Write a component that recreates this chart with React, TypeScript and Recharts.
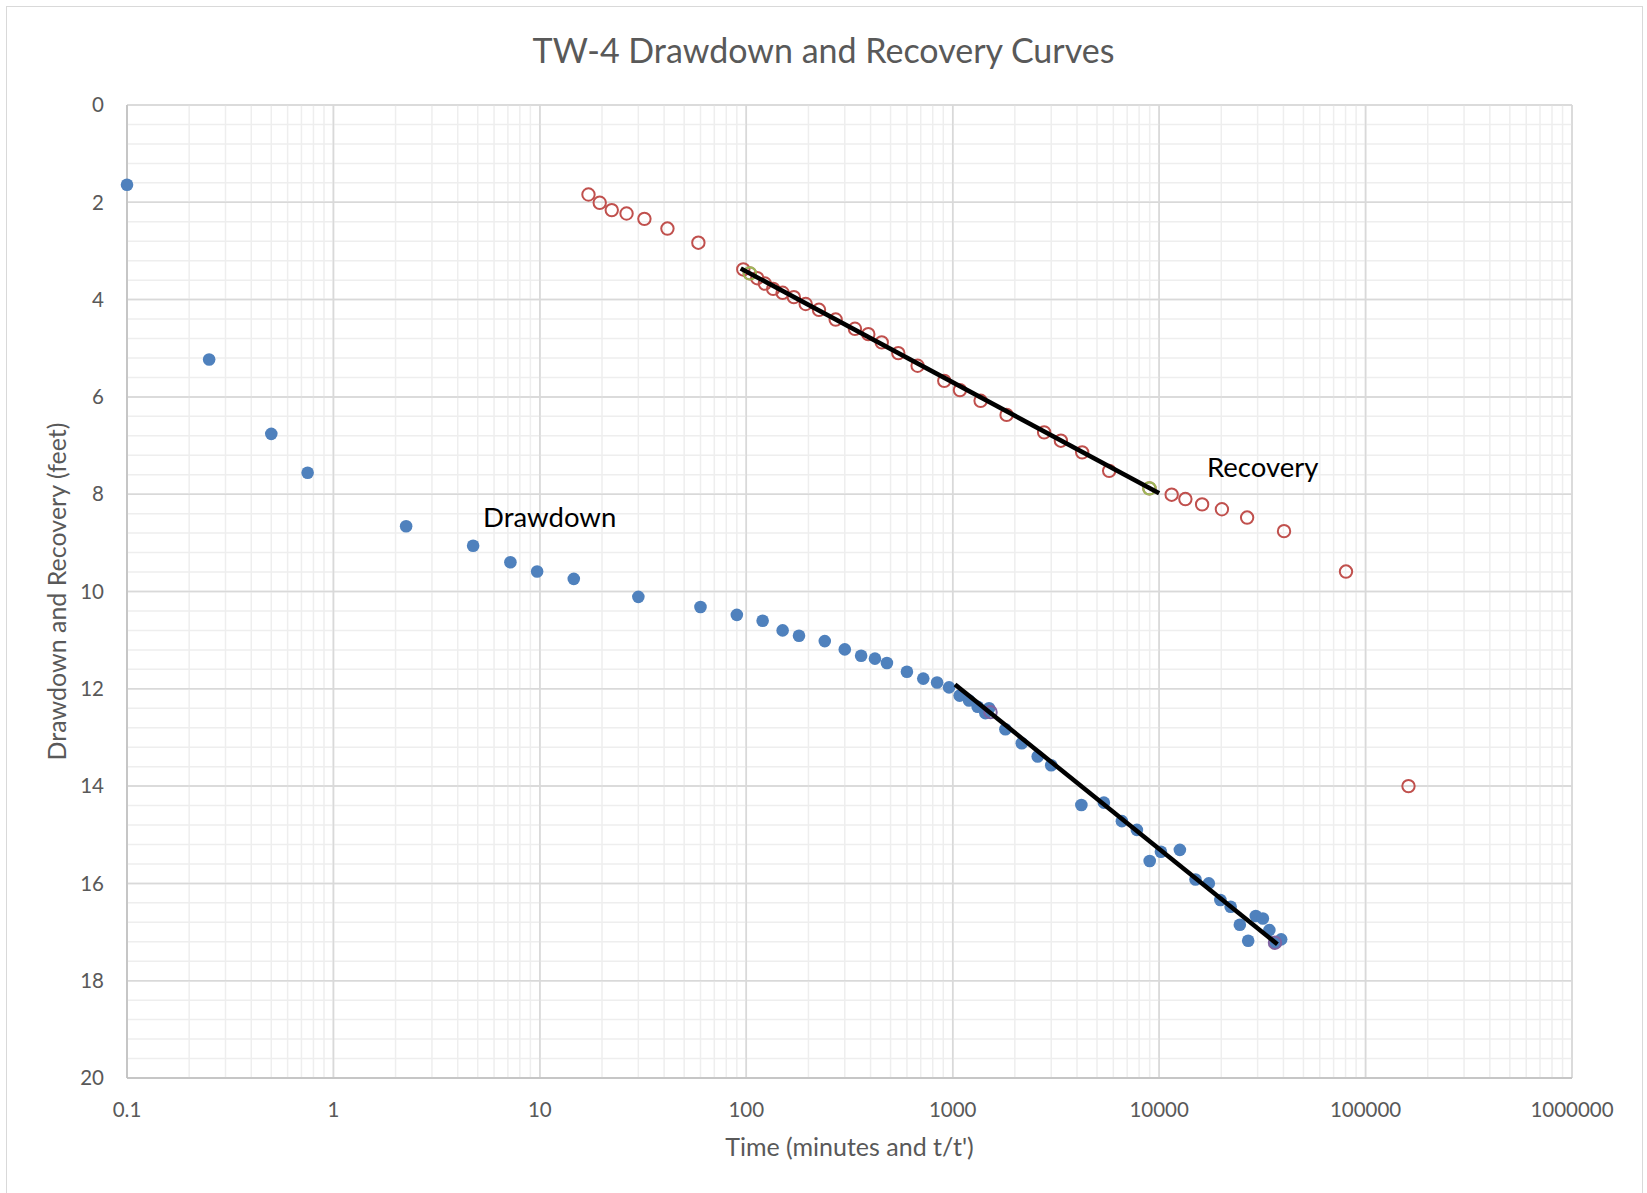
import {
  CartesianGrid,
  ReferenceDot,
  ReferenceLine,
  Scatter,
  ScatterChart,
  XAxis,
  YAxis,
} from 'recharts';

// Pumping test TW-4: drawdown vs elapsed minutes, recovery vs t/t'
const drawdownMinutes = [
  0.1, 0.25, 0.5, 0.75, 2.25, 4.75, 7.2, 9.7, 14.6, 30, 60, 90, 120, 150, 180, 240, 300, 360,
  420, 480, 600, 720, 840, 960, 1080, 1200, 1320, 1440, 1500, 1800, 2160, 2580, 3000, 4200,
  5400, 6600, 7800, 9000, 10200, 12600, 15000, 17400, 19800, 22200, 24600, 27000, 29400,
  31800, 34200, 36600, 39000,
];
const drawdownFeet = [
  1.64, 5.23, 6.76, 7.56, 8.66, 9.06, 9.4, 9.59, 9.74, 10.11, 10.32, 10.48, 10.6, 10.8, 10.91,
  11.02, 11.19, 11.32, 11.38, 11.47, 11.65, 11.79, 11.87, 11.97, 12.14, 12.24, 12.37, 12.5,
  12.4, 12.83, 13.12, 13.39, 13.57, 14.39, 14.34, 14.72, 14.9, 15.54, 15.35, 15.31, 15.92, 16.0,
  16.34, 16.48, 16.85, 17.18, 16.67, 16.72, 16.96, 17.22, 17.15,
];

const recoveryRatio = [
  17.2, 19.5, 22.3, 26.3, 32.1, 41.5, 58.6, 96.7, 104, 113, 123, 135, 150, 170, 194, 225, 271,
  336, 390, 453, 545, 676, 910, 1084, 1365, 1824, 2773, 3342, 4238, 5727, 8970, 11500, 13400,
  16150, 20140, 26680, 40270, 80380, 161400,
];
const recoveryFeet = [
  1.84, 2.01, 2.16, 2.23, 2.34, 2.54, 2.83, 3.38, 3.46, 3.56, 3.67, 3.78, 3.86, 3.95, 4.09, 4.21,
  4.41, 4.6, 4.71, 4.88, 5.1, 5.36, 5.67, 5.86, 6.08, 6.37, 6.73, 6.9, 7.14, 7.52, 7.88, 8.01,
  8.1, 8.21, 8.31, 8.48, 8.76, 9.59, 14.0,
];

// points picked for the straight-line (Cooper-Jacob) fits
const recoveryPickX = [104, 8970];
const recoveryPickY = [3.46, 7.88];
const drawdownPickX = [1525, 36400];
const drawdownPickY = [12.48, 17.22];

// fitted lines
const recoveryFitX = [94, 10000];
const recoveryFitY = [3.36, 7.98];
const drawdownFitX = [1026, 37400];
const drawdownFitY = [11.91, 17.25];

const xTicks = [0.1, 1, 10, 100, 1000, 10000, 100000, 1000000];
const yTicks = [0, 2, 4, 6, 8, 10, 12, 14, 16, 18, 20];

const toPoints = (xs: number[], ys: number[]) => xs.map((x, i) => ({ x, y: ys[i] }));

const drawdown = toPoints(drawdownMinutes, drawdownFeet);
const recovery = toPoints(recoveryRatio, recoveryFeet);
const recoveryPicks = toPoints(recoveryPickX, recoveryPickY);
const drawdownPicks = toPoints(drawdownPickX, drawdownPickY);
const recoveryFit = toPoints(recoveryFitX, recoveryFitY);
const drawdownFit = toPoints(drawdownFitX, drawdownFitY);

// minor log grid (2..9 in each decade) and 0.4 ft minor steps
const minorX: number[] = [];
for (let d = 0.1; d < 1000000; d *= 10) {
  for (let m = 2; m <= 9; m++) minorX.push(+(d * m).toPrecision(3));
}
const minorY: number[] = [];
for (let i = 1; i < 50; i++) if (i % 5 !== 0) minorY.push(+(i * 0.4).toFixed(1));

const W = 1647;
const H = 1193;
const PLOT = { left: 127, top: 105, right: 1572, bottom: 1078 };
const FONT = 'Lato, "Open Sans", sans-serif';
const GREY_TEXT = '#595959';

const filledDot = (color: string) => (p: any) => (
  <circle cx={p.cx} cy={p.cy} r={6.3} fill={color} />
);
const ring = (color: string) => (p: any) => (
  <circle cx={p.cx} cy={p.cy} r={6.2} fill="none" stroke={color} strokeWidth={2} />
);
const noShape = () => <g />;

const annotation = (text: string) => (props: any) => {
  const vb = props.viewBox || {};
  return (
    <text x={vb.x} y={vb.y} fill="#000" fontSize={27.5} fontFamily={FONT} textAnchor="start">
      {text}
    </text>
  );
};

const xTitle = () => (
  <text
    x={(PLOT.left + PLOT.right) / 2}
    y={1156}
    textAnchor="middle"
    fill={GREY_TEXT}
    fontSize={25}
    fontFamily={FONT}
  >
    Time (minutes and t/t')
  </text>
);

const yTitle = () => {
  const cy = (PLOT.top + PLOT.bottom) / 2;
  return (
    <text
      x={66}
      y={cy}
      transform={`rotate(-90 66 ${cy})`}
      textAnchor="middle"
      fill={GREY_TEXT}
      fontSize={25}
      fontFamily={FONT}
    >
      Drawdown and Recovery (feet)
    </text>
  );
};

export default function App() {
  return (
    <div
      style={{
        position: 'absolute',
        left: 0,
        top: 0,
        width: W,
        height: H,
        background: '#fff',
        overflow: 'hidden',
      }}
    >
      <div
        style={{
          position: 'absolute',
          left: 6,
          top: 6,
          width: 1637,
          height: 1200,
          border: '1.5px solid #D9D9D9',
          boxSizing: 'border-box',
        }}
      />
      <div
        style={{
          position: 'absolute',
          left: 0,
          top: 33,
          width: W,
          textAlign: 'center',
          fontFamily: FONT,
          fontSize: 34,
          lineHeight: '34px',
          color: GREY_TEXT,
        }}
      >
        TW-4 Drawdown and Recovery Curves
      </div>
      <div style={{ position: 'absolute', left: 0, top: 0 }}>
        <ScatterChart
          width={W}
          height={H}
          margin={{ top: PLOT.top, right: W - PLOT.right, bottom: H - PLOT.bottom - 100, left: PLOT.left - 100 }}
        >
          <CartesianGrid stroke="#D9D9D9" strokeWidth={1.5} />
          {minorX.map((v) => (
            <ReferenceLine key={`mx${v}`} x={v} stroke="#EEEEEE" strokeWidth={1.5} />
          ))}
          {minorY.map((v) => (
            <ReferenceLine key={`my${v}`} y={v} stroke="#EEEEEE" strokeWidth={1.5} />
          ))}
          {xTicks.map((v) => (
            <ReferenceLine key={`Mx${v}`} x={v} stroke="#D9D9D9" strokeWidth={1.5} />
          ))}
          {yTicks.map((v) => (
            <ReferenceLine key={`My${v}`} y={v} stroke="#D9D9D9" strokeWidth={1.5} />
          ))}
          <XAxis
            dataKey="x"
            type="number"
            scale="log"
            domain={[0.1, 1000000]}
            ticks={xTicks}
            tickFormatter={(v: number) => String(v)}
            height={100}
            tickSize={0}
            tickMargin={24}
            tickLine={false}
            axisLine={{ stroke: '#BFBFBF', strokeWidth: 1.5 }}
            tick={{ fill: GREY_TEXT, fontSize: 20.5, fontFamily: FONT }}
            label={xTitle}
          />
          <YAxis
            dataKey="y"
            type="number"
            reversed
            domain={[0, 20]}
            ticks={yTicks}
            width={100}
            tickSize={0}
            tickMargin={23}
            tickLine={false}
            axisLine={{ stroke: '#BFBFBF', strokeWidth: 1.5 }}
            tick={{ fill: GREY_TEXT, fontSize: 20.5, fontFamily: FONT }}
            label={yTitle}
          />
          <Scatter data={recovery} shape={ring('#C0504D')} isAnimationActive={false} />
          <Scatter data={drawdown} shape={filledDot('#4F81BD')} isAnimationActive={false} />
          <Scatter data={recoveryPicks} shape={ring('#9BBB59')} isAnimationActive={false} />
          <Scatter data={drawdownPicks} shape={ring('#8064A2')} isAnimationActive={false} />
          <Scatter
            data={recoveryFit}
            shape={noShape}
            line={{ stroke: '#000', strokeWidth: 4.5 }}
            isAnimationActive={false}
          />
          <Scatter
            data={drawdownFit}
            shape={noShape}
            line={{ stroke: '#000', strokeWidth: 4.5 }}
            isAnimationActive={false}
          />
          <ReferenceDot x={5.31} y={8.67} r={0} label={annotation('Drawdown')} />
          <ReferenceDot x={17060} y={7.65} r={0} label={annotation('Recovery')} />
        </ScatterChart>
      </div>
    </div>
  );
}
